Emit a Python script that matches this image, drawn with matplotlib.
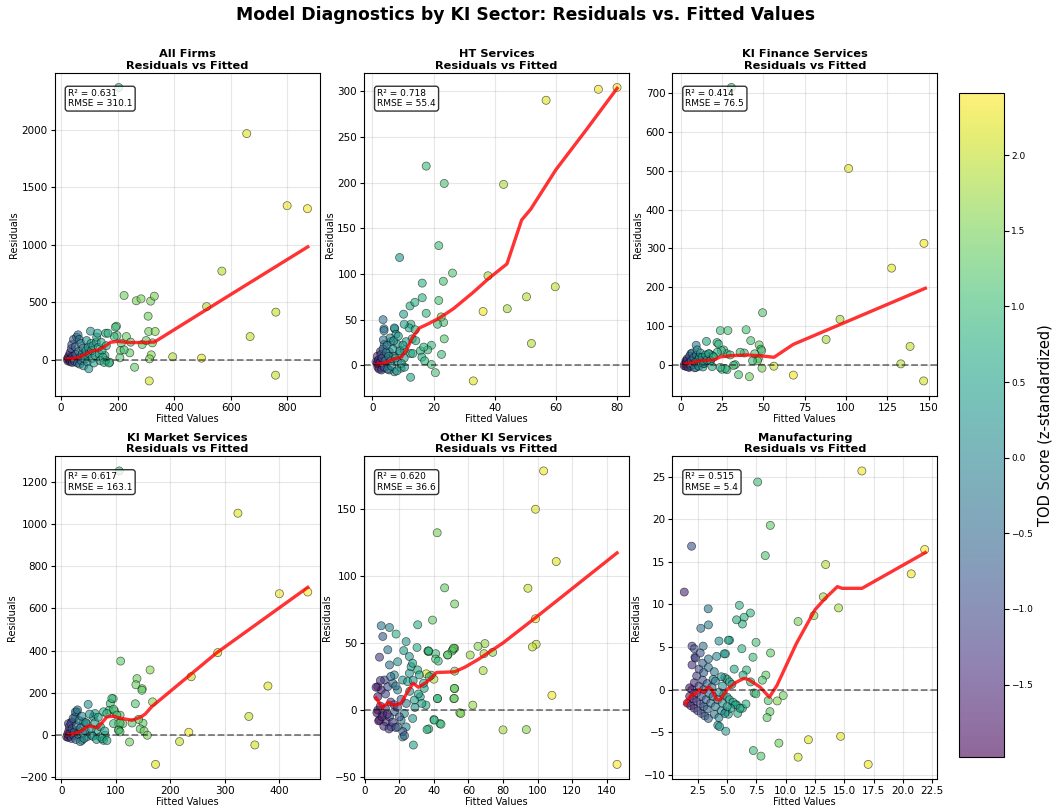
import matplotlib
matplotlib.use("Agg")
import matplotlib.pyplot as plt
from matplotlib.ticker import MultipleLocator
import numpy as np

# ---- data (fitted, residual, TOD z-score) ----
sectors = ["All Firms", "HT Services", "KI Finance Services",
           "KI Market Services", "Other KI Services", "Manufacturing"]
r2_vals = [0.631, 0.718, 0.414, 0.617, 0.620, 0.515]
rmse_vals = [310.1, 55.4, 76.5, 163.1, 36.6, 5.4]

all_firms_pts = [
    (204, 2366, 1.0), (657, 1965, 2.2), (800, 1338, 2.3), (872, 1312, 2.35),
    (569, 769, 1.9), (760, 412, 2.0), (669, 200, 2.0), (759, -136, 2.0),
    (515, 461, 1.8), (395, 24, 1.9), (497, 12, 2.2), (312, -186, 2.1),
    (223, 557, 1.4), (266, 511, 1.5), (283, 528, 1.5), (317, 508, 1.5),
    (330, 551, 1.5), (308, 377, 1.4), (310, 244, 1.4), (333, 244, 1.6),
    (323, 145, 1.4), (319, 41, 1.6), (313, 6, 1.5), (287, 131, 1.3),
    (301, 165, 1.3), (260, -67, 1.3), (243, 58, 1.3), (231, 200, 1.4),
    (246, 151, 1.2), (196, 290, 1.1), (192, 282, 1.0), (198, 209, 1.0),
    (188, 200, 1.0), (213, 142, 1.2), (210, 78, 1.3), (223, 84, 1.1),
    (208, 15, 1.2), (172, -23, 0.9), (155, 35, 0.8), (158, -9, 0.8),
    (22, 5, -1.7), (24, -12, -1.6), (26, 18, -1.5), (28, 35, -1.4),
    (30, -5, -1.5), (32, 60, -1.3), (33, -20, -1.4), (35, 12, -1.2),
    (36, 95, -1.0), (38, 130, -0.9), (40, -25, -1.1), (42, 28, -1.0),
    (44, 175, -0.7), (46, 5, -0.9), (48, -15, -0.8), (50, 110, -0.6),
    (52, 45, -0.7), (55, 195, -0.5), (58, -30, -0.6), (60, 215, -0.4),
    (62, 70, -0.4), (64, 175, -0.3), (66, -40, -0.3), (68, 20, -0.2),
    (70, 140, -0.2), (72, -10, -0.1), (75, 50, 0.0), (78, 100, 0.0),
    (80, -55, 0.1), (82, 30, 0.1), (85, 5, 0.2), (88, 75, 0.2),
    (90, 165, 0.2), (93, -20, 0.3), (96, 107, 0.3), (98, -80, 0.3),
    (100, 50, 0.3), (104, 247, 0.2), (106, 140, 0.4), (108, 78, 0.4),
    (110, 10, 0.4), (113, 120, 0.4), (116, -30, 0.5), (120, 35, 0.5),
    (124, 150, 0.5), (126, 195, 0.6), (129, 229, 0.5), (132, 105, 0.6),
    (135, 50, 0.6), (138, -10, 0.6), (142, 150, 0.6), (145, 80, 0.7),
    (148, 20, 0.7), (152, -25, 0.7), (158, 229, 0.8), (160, 120, 0.7),
    (166, 229, 0.8), (170, -30, 0.8),
]
all_firms_trend = [(20, 5), (45, 10), (65, 20), (85, 45), (110, 75), (135, 85),
                   (155, 115), (175, 150), (200, 158), (240, 148), (280, 148),
                   (330, 152), (600, 565), (873, 980)]

ht_pts = [
    (80, 304, 2.4), (73.9, 302, 2.3), (56.8, 290, 2.2), (17.6, 218, 1.0),
    (23.5, 199, 1.1), (42.9, 198, 1.9), (8.9, 118, 0.3), (21.7, 131, 1.0),
    (26.2, 101, 1.2), (23.2, 92, 1.1), (37.8, 98, 1.8), (59.8, 86, 2.0),
    (50.4, 75, 1.9), (44.1, 62, 1.8), (36.2, 59, 2.3), (52, 24, 1.9),
    (33, -17, 2.2), (16.3, 90, 0.8), (16.3, 74, 0.8), (21.7, 71, 1.1),
    (12.3, 65, 0.7), (13.9, 69, 0.8), (17.6, 57, 0.9), (10.2, 56, 0.5),
    (3.5, 50, -0.3), (3.8, 40, -0.2), (3.8, 38, -0.3), (7.3, 40, 0.3),
    (23.3, 47, 1.1), (22.5, 53, 1.4), (21.3, 45, 1.0), (23.5, 29, 1.2),
    (22.6, 12, 1.0), (20.6, -8, 1.1), (12.5, -13, 0.5), (19.3, 1, 1.0),
    (19.3, 22, 0.9), (18.1, 17, 0.9), (15.7, 16, 0.8), (16.8, 20, 0.9),
    (16.2, 9, 0.7), (17.1, 5, 0.9), (12.6, 45, 0.7), (12.0, 41, 0.6),
    (14.0, 39, 0.8), (13.0, 29, 0.7), (14.2, 27, 0.7), (12.5, 13, 0.6),
    (13.2, 13, 0.7), (3.9, 23, -0.4), (2.6, 15, -1.0), (1.6, 10, -1.4),
    (1.2, 4, -1.7), (2.3, 1, -1.5), (3.3, -3, -1.0), (4.9, 2, -0.3),
    (5.5, 15, -0.1), (6.1, 26, 0.0), (7.2, 41, 0.2), (7.7, 34, 0.2),
    (8.2, 23, 0.3), (8.8, 13, 0.3), (8.2, 4, 0.3), (9.4, -3, 0.4),
    (7.2, -7, 0.2), (5.5, -5, 0.0), (4.5, 8, -0.4), (6.9, 10, 0.1),
    (10.4, 8, 0.5), (10.4, 17, 0.5), (11, 26, 0.5), (10.4, 45, 0.4),
    (1.5, 2, -1.8), (1.8, -2, -1.7), (2.0, 6, -1.5), (2.2, -4, -1.6),
    (2.5, 3, -1.3), (2.8, 12, -1.1), (3.0, -5, -1.2), (3.2, 8, -0.9),
    (3.5, 18, -0.6), (3.6, 28, -0.4), (4.0, -2, -0.7), (4.2, 5, -0.5),
    (4.5, 14, -0.3), (4.8, 22, -0.2), (5.0, -4, -0.3), (5.3, 10, -0.1),
    (5.8, 30, 0.0), (6.0, 5, 0.1), (6.3, -1, 0.1), (6.7, 18, 0.2),
    (7.0, 27, 0.2), (7.5, 8, 0.3), (8.0, -6, 0.3), (8.5, 32, 0.4),
    (9.0, 16, 0.4), (9.5, 2, 0.4), (10.0, 22, 0.5), (10.5, -2, 0.5),
]
ht_trend = [(1.5, 1), (3, 2), (5, 4), (7, 7), (9.5, 9), (11.5, 19), (13, 30),
            (15.4, 41), (18, 45), (22, 52), (26.5, 62), (33, 80), (38, 95),
            (44, 111), (48.8, 159), (51.8, 171), (60, 214), (70, 258), (80, 303)]

fin_pts = [
    (30.7, 715, 1.1), (101.6, 506, 2.2), (147.2, 313, 2.3), (127.6, 249, 2.2),
    (96.4, 117, 1.8), (88, 65, 1.8), (138.8, 47, 2.0), (133.2, 2, 1.9),
    (147, -42, 2.1), (68.2, -27, 2.3), (56.4, -4, 2.0), (49.6, 134, 1.2),
    (39.6, 90, 1.1), (24, 88, 1.0), (28.6, 88, 1.1), (42.4, 62, 1.1),
    (47.5, 51, 1.3), (48.5, 40, 1.2), (47, 16, 1.3), (49, 36, 1.1),
    (46.5, 10, 1.2), (38.5, 30, 1.0), (35, -26, 1.1), (41.6, -31, 1.4),
    (49.2, -9, 1.5), (43.5, 10, 1.0), (22, 57, 0.8), (23, 53, 0.9),
    (26, 38, 0.9), (28, 28, 1.0), (30, 25, 1.0), (33, 0, 0.9),
    (32, -2, 1.1), (25, -12, 0.9), (28, -13, 1.0), (15.6, 60, 0.6),
    (9.4, 50, -0.2), (24.6, 36, 0.9), (22.2, 32, 0.8), (44.8, 28, 1.1),
    (36, 32, 1.0), (27, -10, 0.9), (24, -7, 0.8), (17.2, 28, 0.5),
    (18, 10, 0.5), (14.2, 3, 0.4), (11.2, 19, 0.2), (6.2, 28, -0.5),
    (3.2, 10, -1.4), (2.2, -3, -1.7), (5.2, -7, -0.9), (9.2, -7, -0.1),
    (13.2, 19, 0.3), (19.2, 23, 0.6),
    (2.5, 2, -1.8), (3.0, -4, -1.6), (3.5, 8, -1.5), (4.0, 15, -1.3),
    (4.5, -6, -1.2), (5.0, 3, -1.0), (5.5, 22, -0.8), (6.0, -2, -0.7),
    (6.5, 10, -0.6), (7.0, 30, -0.4), (7.5, 0, -0.4), (8.0, 18, -0.3),
    (8.5, -8, -0.2), (9.0, 6, -0.1), (9.5, 25, -0.1), (10, 38, 0.0),
    (10.5, 12, 0.1), (11, -4, 0.1), (11.5, 19, 0.2), (12, 30, 0.2),
    (12.5, 5, 0.3), (13, 19, 0.3), (13.5, -6, 0.3), (14, 3, 0.4),
    (15, 25, 0.4), (16, 12, 0.5), (17, 28, 0.5), (18, 10, 0.6),
    (19, -5, 0.6), (20, 20, 0.7),
]
fin_trend = [(3, 2), (7, 5), (11, 10), (16, 11), (20, 12), (24, 20), (30, 23),
             (40, 25), (48, 23), (56.5, 19), (68, 52), (100, 110), (148, 197)]

mkt_pts = [
    (106.4, 1251, 1.0), (324, 1051, 2.2), (400, 670, 2.3), (452, 678, 2.4),
    (287, 391, 2.2), (238.5, 277, 2.0), (379, 233, 2.2), (344, 89, 2.0),
    (355, -46, 2.1), (234, 14, 2.3), (217, -30, 2.0), (173, -138, 2.2),
    (109, 351, 1.3), (163, 309, 1.6), (139, 268, 1.4), (137, 239, 1.4),
    (148.6, 220, 1.4), (148, 213, 1.3), (167.6, 158, 1.6), (136, 149, 1.2),
    (95.4, 173, 1.1), (90, 150, 1.0), (88, 118, 1.0), (98, 115, 1.1),
    (108, 95, 1.2), (105, 55, 1.2), (113, 55, 1.3), (106, 25, 1.2),
    (150, 57, 1.3), (145, 30, 1.3), (152, 20, 1.4), (158, 0, 1.5),
    (142, 75, 1.4), (130, 58, 1.2), (125.4, -32, 1.4), (49.5, 146, 0.2),
    (28.6, 111, -0.4), (25.7, 87, -0.5), (19.5, 63, -0.9), (13.4, 55, -1.3),
    (41, 63, 0.0), (47, 55, 0.1), (59, 87, 0.4), (62, 103, 0.5),
    (77.6, 111, 0.8), (83.7, 103, 0.9), (92.9, 174, 1.0), (96, 123, 1.1),
    (102, 95, 1.1), (96, 55, 1.0), (108, 57, 1.2), (105, 24, 1.1),
    (108, 16, 1.2), (77.6, -24, 0.7), (80.7, 0, 0.7), (71.5, -8, 0.6),
    (65, 24, 0.5), (56, 0, 0.4), (47, -8, 0.2), (38, -24, 0.0),
    (44, 24, 0.1), (31.7, 24, -0.2), (22.6, 8, -0.7), (10.3, -8, -1.7),
    (12, 5, -1.8), (13, -10, -1.6), (14, 20, -1.5), (15, 40, -1.3),
    (16, -5, -1.4), (17, 10, -1.2), (18, 55, -1.0), (19, -15, -1.1),
    (20, 30, -0.9), (22, 80, -0.6), (23, 0, -0.8), (24, 15, -0.7),
    (26, 110, -0.4), (27, -20, -0.5), (28, 45, -0.4), (30, 120, -0.3),
    (31, 5, -0.3), (33, 70, -0.2), (35, -30, -0.1), (36, 35, -0.1),
    (38, 90, 0.0), (40, 10, 0.0), (42, -15, 0.1), (45, 60, 0.2),
    (52, 100, 0.2), (55, 30, 0.3), (58, -5, 0.3), (62, 60, 0.4),
    (65, -20, 0.4), (68, 85, 0.5), (72, 40, 0.5), (75, -15, 0.6),
    (80, 20, 0.6), (84, -25, 0.7),
]
mkt_trend = [(12, 2), (25, 8), (38, 22), (50, 45), (58, 40), (67, 36), (75, 60),
             (84, 87), (96, 90), (110, 80), (130, 71), (145, 85), (154, 100),
             (166, 135), (285, 390), (452, 700)]

other_pts = [
    (103.5, 178, 2.3), (98.8, 149.5, 2.2), (110.8, 110.6, 2.2), (41.9, 132, 1.5),
    (94.4, 90.7, 2.0), (46.2, 91, 1.3), (52, 79, 1.4), (39.2, 67, 1.3),
    (30.6, 63.5, 0.8), (98.8, 68, 2.3), (99.2, 49, 2.0), (97, 47, 2.0),
    (69.5, 49.5, 1.7), (65.5, 47.5, 1.6), (74, 43, 1.6), (69, 42, 1.7),
    (61, 41, 1.7), (52, 46, 1.4), (51, 45, 1.3), (48, 41, 1.4),
    (50.5, 44, 1.3), (68.5, 29.4, 1.8), (52, 29, 1.5), (52, 16, 1.5),
    (51.5, 8.5, 1.6), (62.5, 3.7, 1.7), (55, -2, 1.6), (80, -14.7, 1.8),
    (93.5, -14.5, 1.6), (108.3, 11, 2.3), (146, -40.4, 2.4), (42, 8.5, 1.1),
    (40, -7, 0.8), (43.5, -10, 1.0), (37, -14, 0.9), (36, -14.5, 0.8),
    (36.5, 44, 1.1), (37, 43.5, 1.0), (41, 42, 1.0), (41, 38, 1.1),
    (42.5, 36.5, 1.0), (40, 23, 1.9), (38.5, 26, 1.0), (35.6, 27, 2.2),
    (28.1, -26, 0.5), (9.5, 62.8, -0.2), (14.3, 61.5, -0.1), (10.4, 54.8, -0.8),
    (18.1, 56.6, 0.8), (23.9, 51, 0.3), (13.3, 44.9, -0.3), (8.5, 39.4, -1.2),
    (19, 36, 0.2), (22.5, 44.3, 0.4), (25.8, 39.9, 0.4), (30.2, 46.6, 0.7),
    (36.9, 44.1, 0.9), (51.4, 46.1, 1.3), (47.9, 41.1, 1.2), (14.3, 33.6, -0.3),
    (17.1, 26.2, 0.2), (11.4, 22.4, -1.1), (7.5, 17.4, -1.5), (9.5, 15, -1.6),
    (13.3, 17.4, -0.9), (16.2, 20, -0.4), (19, 15, 0.0), (21.9, 22.4, 0.3),
    (24.8, 21.2, 0.4), (25.8, 27.4, 0.4), (26.8, 32.4, 0.5), (27.7, 34.9, 0.5),
    (30.6, 29.9, 0.6), (31.6, 26.2, 0.6), (37.3, 24.9, 0.8), (34.4, 16.2, 0.6),
    (32.1, 9.9, 0.6), (28.7, 7.5, 0.5), (35.4, 3.7, 0.7), (22.9, -2.5, 0.1),
    (21, -7.5, -0.2), (19, -12.5, -0.3), (23.9, -12.5, 0.0), (21.9, -20, 0.0),
    (15.2, -12.5, -0.9), (12.3, -8.7, -1.3), (8.5, -7.5, -1.6), (7.5, 0, -1.7),
    (10.4, -2.5, -1.5), (17.1, -1.2, -0.6), (14.3, -5, -1.0), (27.7, -6.2, 0.3),
    (40.2, -7.5, 0.9), (44.1, -10.5, 1.0), (42.1, 8.7, 0.9), (51.8, 8.7, 1.3),
    (51.8, 16.2, 1.3), (55.6, -2.5, 1.5), (7.5, 10, -1.7),
    (7, -2, -1.8), (8, -8, -1.7), (9, 3, -1.6), (10, -5, -1.6),
    (11, -12, -1.5), (12, 1, -1.4), (13, -3, -1.5), (14, -14, -1.3),
    (15, 6, -1.2), (16, -9, -1.3), (17, 4, -1.1), (18, -13, -1.0),
    (19, 2, -1.0), (20, -5, -0.9), (21, 8, -0.8), (22, -16, -0.7),
    (23, -19, -0.6), (6.5, 17, -1.6), (9, 22, -1.3), (12, 12, -1.1),
    (15, 25, -0.5), (18, 18, -0.3), (24, 5, -0.2), (26, 14, 0.1),
    (28, 22, 0.3), (29, 2, 0.2), (31, 12, 0.4), (33, 5, 0.5), (34, 20, 0.5),
]
other_trend = [(6.5, 9), (10, 2), (12, 4), (14, 6), (16.5, 3.5), (21, 5), (24, 12),
               (28, 20), (31, 17), (36, 21), (41.5, 28), (52, 28.5), (58, 32),
               (66, 38), (80, 50), (100, 70), (146, 117)]

manu_pts = [
    (16.49, 25.7, 2.3), (7.6, 24.4, 1.0), (8.68, 19.3, 1.3), (8.25, 15.75, 1.2),
    (1.96, 16.85, -0.9), (1.34, 11.46, -1.5), (21.85, 16.46, 2.4), (20.7, 13.6, 2.3),
    (13.4, 14.7, 1.9), (13.2, 10.9, 1.7), (14.5, 9.6, 1.8), (12.4, 8.7, 1.7),
    (11.05, 8.0, 1.5), (6.04, 9.9, 0.8), (6.98, 9.0, 0.9), (6.45, 8.5, 0.8),
    (6.3, 7.7, 0.8), (5.8, 8.2, 0.7), (3.38, 9.5, -0.2), (3.4, 7.6, -0.1),
    (2.75, 7.2, -0.4), (7.46, 5.55, 1.1), (7.2, 3.8, 1.0), (8.7, 4.3, 1.3),
    (6.25, 4.8, 0.8), (5.2, 5.8, 0.5), (5.1, 5.8, 0.5), (4.3, 5.7, 0.2),
    (4.1, 3.9, 0.1), (2.95, 5.1, -0.3), (2.0, 5.1, -1.2), (2.2, 4.8, -1.0),
    (2.25, 3.8, -1.1), (8.3, 1.7, 1.3), (8.0, 1.1, 1.2), (7.3, -0.4, 1.1),
    (7.45, -0.5, 1.0), (7.0, 0.9, 0.9), (6.65, 2.3, 0.9), (5.6, 2.4, 0.6),
    (6.35, 1.7, 0.7), (9.78, -0.7, 1.4), (9.27, -1.34, 1.6), (8.5, -1.3, 1.2),
    (8.65, -2.6, 1.3), (8.4, -3.3, 1.3), (9.41, -6.3, 1.4), (7.23, -7.17, 1.0),
    (7.88, -7.83, 1.2), (11.05, -7.95, 2.1), (11.93, -5.9, 2.2), (14.68, -5.5, 2.2),
    (17.03, -8.8, 2.3), (4.88, -4.9, 0.4), (4.2, -4.2, 0.2), (4.35, -4.35, 0.3),
    (5.9, -2.8, 0.7), (6.3, -2.2, 0.7), (6.6, -1.7, 0.8), (5.8, -1.8, 0.6),
    (4.85, 4.2, 0.4), (4.75, 4.2, 0.4), (4.8, 1.4, 0.4), (5.0, 1.2, 0.4),
    (5.2, 0.9, 0.5), (5.4, 0.6, 0.5), (4.7, -0.6, 0.3), (5.0, -0.9, 0.4),
    (5.2, -1.2, 0.5), (5.5, -1.5, 0.5), (5.7, -1.8, 0.6), (4.9, -2.6, 0.4),
    (5.1, -2.9, 0.4), (5.3, -2.2, 0.5), (6.1, -2.2, 0.6),
    (1.6, -1.6, -1.8), (1.9, -1.9, -1.7), (2.2, -2.2, -1.5), (2.5, -2.5, -1.2),
    (2.8, -2.8, -1.0), (3.1, -3.1, -0.8), (3.4, -3.4, -0.6),
    (1.8, -0.8, -1.7), (2.1, -1.1, -1.5), (2.4, -1.4, -1.3), (2.7, -1.7, -1.0),
    (3.0, -2.0, -0.8), (3.3, -2.3, -0.6), (3.9, -2.9, -0.3), (4.3, -3.3, 0.0),
    (2.0, 0.0, -1.6), (2.4, -0.4, -1.3), (2.8, -0.8, -1.0), (3.2, -1.2, -0.7),
    (3.6, -1.6, -0.4), (4.0, -2.0, -0.2), (4.5, -2.5, 0.1), (4.8, -2.8, 0.3),
    (2.2, 0.8, -1.4), (2.6, 0.4, -1.1), (3.0, 0.0, -0.9), (3.5, -0.5, -0.5),
    (3.8, -0.8, -0.3), (4.2, -1.2, -0.1), (4.6, -1.6, 0.2), (5.0, -2.0, 0.4),
    (2.4, 1.6, -1.2), (2.9, 1.1, -0.9), (3.3, 0.7, -0.6), (3.7, 0.3, -0.4),
    (4.3, -0.3, 0.0), (2.6, 2.4, -1.0), (3.0, 2.0, -0.7), (3.8, 1.2, -0.2),
    (4.0, 1.0, -0.1), (4.6, 0.4, 0.2), (2.3, 3.7, -1.1), (2.9, 3.1, -0.7),
    (3.4, 2.6, -0.4), (3.9, 2.1, -0.1), (4.5, 1.5, 0.2), (2.7, 4.3, -0.8),
    (3.4, 3.6, -0.3), (2.0, 2.9, -1.4), (1.8, 0.2, -1.7),
]
manu_trend = [(1.4, -1.7), (1.9, -0.7), (2.3, -0.5), (2.6, 0), (3.0, -0.3),
              (3.4, 0.3), (3.7, 0), (4.1, -1.2), (4.4, -1.2), (5.0, 0), (5.7, 0.8),
              (6.4, 1.3), (6.8, 1.2), (7.8, 0.3), (8.6, -0.9), (9.25, 0.5),
              (10.9, 5.4), (12.5, 9.4), (13.35, 10.7), (14.4, 12.1), (14.8, 11.9),
              (16.5, 11.9), (21.9, 16.1)]

panel_pts = [all_firms_pts, ht_pts, fin_pts, mkt_pts, other_pts, manu_pts]
panel_trend = [all_firms_trend, ht_trend, fin_trend, mkt_trend, other_trend, manu_trend]

TOD_MIN, TOD_MAX = -1.98, 2.41

fig = plt.figure(figsize=(10.52, 8.09), dpi=100)

col_left = [0.052, 0.346, 0.639]
row_bottom = [0.511, 0.037]
ax_w, ax_h = 0.252, 0.399

sc = None
for i, name in enumerate(sectors):
    r, c = divmod(i, 3)
    ax = fig.add_axes([col_left[c], row_bottom[r], ax_w, ax_h])
    pts = np.array(panel_pts[i])
    sc = ax.scatter(pts[:, 0], pts[:, 1], c=pts[:, 2], cmap="viridis",
                    vmin=TOD_MIN, vmax=TOD_MAX, s=34, alpha=0.6,
                    edgecolors="black", linewidths=0.5)
    tr = np.array(panel_trend[i])
    ax.plot(tr[:, 0], tr[:, 1], color="red", linewidth=2.4, alpha=0.8)
    ax.axhline(0, color="black", linestyle="--", alpha=0.5, linewidth=1.3)

    ax.set_title(f"{name}\nResiduals vs Fitted", fontsize=8.2, fontweight="bold", pad=3)
    ax.set_xlabel("Fitted Values", fontsize=7, labelpad=1)
    ax.set_ylabel("Residuals", fontsize=7, labelpad=2)
    ax.tick_params(labelsize=7.5, length=3, pad=2)
    if i == 5:
        ax.xaxis.set_major_locator(MultipleLocator(2.5))
    ax.grid(True, alpha=0.3)
    ax.text(0.05, 0.95, f"R\u00b2 = {r2_vals[i]:.3f}\nRMSE = {rmse_vals[i]:.1f}",
            transform=ax.transAxes, va="top", fontsize=6.5,
            bbox=dict(boxstyle="round", facecolor="white", alpha=0.8))

cax = fig.add_axes([0.912, 0.064, 0.042, 0.821])
cbar = fig.colorbar(sc, cax=cax)
cbar.set_label("TOD Score (z-standardized)", fontsize=10.5, labelpad=3)
cbar.ax.tick_params(labelsize=6.5, pad=2)

fig.suptitle("Model Diagnostics by KI Sector: Residuals vs. Fitted Values",
             fontsize=12.4, fontweight="bold", y=0.992)

fig.savefig("out.png", dpi=100)
